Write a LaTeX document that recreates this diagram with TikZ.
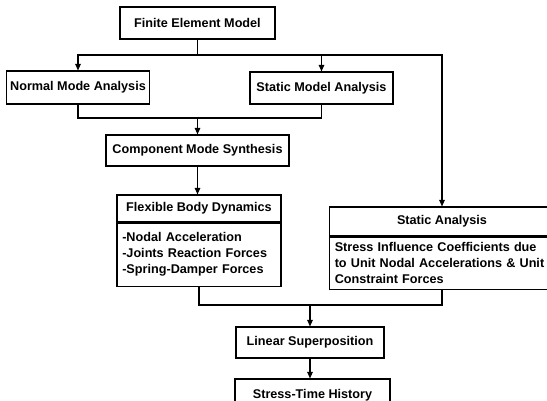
\documentclass[tikz,border=0pt]{standalone}
\usepackage{fontspec}
\setmainfont{Liberation Sans}
\usepackage{tikz}
\usetikzlibrary{arrows.meta,positioning,calc}

\begin{document}
\begin{tikzpicture}[
  x=0.02cm, y=-0.02cm,
  >={Triangle[length=3.8pt,width=3.2pt]},
  font=\fontsize{7.2}{9}\selectfont\bfseries,
  box/.style={
    draw,
    line width=0.6pt,
    align=center,
    inner sep=2pt
  },
  headbox/.style={
    box,
    minimum height=0.56cm
  },
  listbox/.style={
    box,
    anchor=north,
    align=left,
    inner xsep=3pt
  },
  edge/.style={
    draw=black,
    line width=0.6pt
  }
]
\useasboundingbox (0,0) rectangle (547,401);
\clip (0,0) rectangle (547,401);

% Main nodes
\node[box, minimum width=3.1cm, minimum height=0.64cm] (fem) at (197.5,23) {Finite Element Model};

\node[box, minimum width=2.84cm, minimum height=0.66cm] (nma) at (78,87.5) {Normal Mode Analysis};
\node[box, minimum width=2.86cm, minimum height=0.64cm] (sma) at (321.5,88) {Static Model Analysis};

\node[box, minimum width=3.66cm, minimum height=0.62cm] (cms) at (197.5,150.5) {Component Mode Synthesis};

% Flexible body dynamics (title + list)
\node[headbox, minimum width=3.28cm, minimum height=0.54cm] (fbdh) at (199,208.5) {Flexible Body Dynamics};
\node[listbox, minimum width=3.28cm, minimum height=1.26cm, text width=3.07cm] (fbdb) at (fbdh.south)
  {-Nodal Acceleration\\-Joints Reaction Forces\\-Spring-Damper Forces};

% Static analysis (title + text), runs past the right edge
\node[headbox, minimum width=4.5cm, minimum height=0.58cm] (sah) at (442,221.5) {Static Analysis};
\node[listbox, minimum width=4.5cm, minimum height=1.04cm, text width=4.29cm] (sab) at (sah.south)
  {Stress Influence Coefficients due\\to Unit Nodal Accelerations \& Unit\\Constraint Forces};

\node[box, minimum width=2.96cm, minimum height=0.62cm] (ls) at (310,342.5) {Linear Superposition};
\node[box, minimum width=3.1cm, minimum height=0.66cm] (sth) at (312.5,395.5) {Stress-Time History};

% Junctions
\coordinate (split) at (197.5,55);
\coordinate (merge1) at (197.5,118);
\coordinate (merge2) at (310,305);

% Edges from FEM
\draw[edge] (fem.south) -- (split);
\draw[edge,->] (split) -| (nma.north);
\draw[edge,->] (split) -| (sma.north);
\draw[edge,->] (split) -| (sah.north);

% Modes into synthesis
\draw[edge] (nma.south) |- (merge1);
\draw[edge] (sma.south) |- (merge1);
\draw[edge,->] (merge1) -- (cms.north);
\draw[edge,->] (cms.south) -- (cms.south |- fbdh.north);

% Into superposition
\draw[edge] (fbdb.south) |- (merge2);
\draw[edge] (sab.south) |- (merge2);
\draw[edge,->] (merge2) -- (ls.north);
\draw[edge,->] (ls.south) -- (ls.south |- sth.north);

\end{tikzpicture}
\end{document}
